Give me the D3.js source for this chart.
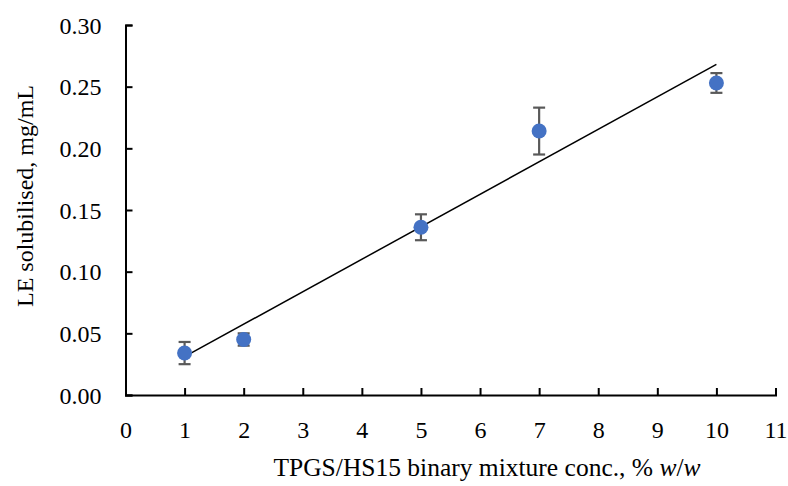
<!DOCTYPE html>
<html>
<head>
<meta charset="utf-8">
<script src="https://cdn.jsdelivr.net/npm/d3@7"></script>
<style>
  html, body { margin: 0; padding: 0; background: #fff; }
  text { font-family: "Palatino Linotype", "Book Antiqua", Palatino, "Liberation Serif", serif; fill: #000; }
</style>
</head>
<body>
<svg id="chart" width="788" height="486"></svg>
<script>
const concentrations = [1, 2, 5, 7, 10];
const solubilised = [0.034, 0.045, 0.136, 0.214, 0.253];
const errors = [0.009, 0.005, 0.0105, 0.019, 0.008];
const xTicks = [0, 1, 2, 3, 4, 5, 6, 7, 8, 9, 10, 11];
const yTicks = [0.00, 0.05, 0.10, 0.15, 0.20, 0.25, 0.30];
const xTitle = "TPGS/HS15 binary mixture conc., % ";
const yTitle = "LE solubilised, mg/mL";

const svg = d3.select("#chart");
const x = d3.scaleLinear().domain([0, 11]).range([125.5, 775.5]);
const y = d3.scaleLinear().domain([0, 0.30]).range([395, 25]);
const fs = 24;

// linear trendline (least squares)
const n = concentrations.length;
const mx = d3.mean(concentrations), my = d3.mean(solubilised);
let sxy = 0, sxx = 0;
for (let i = 0; i < n; i++) { sxy += (concentrations[i]-mx)*(solubilised[i]-my); sxx += (concentrations[i]-mx)**2; }
const slope = sxy / sxx, intercept = my - slope * mx;
const x0 = d3.min(concentrations), x1 = d3.max(concentrations);

// axes
const xAxis = svg.append("g").attr("transform", `translate(0,${y(0)})`)
  .call(d3.axisBottom(x).tickValues(xTicks).tickSize(-7).tickPadding(0).tickFormat(d3.format("d")));
xAxis.select(".domain").attr("stroke", "#000").attr("stroke-width", 2);
xAxis.selectAll(".tick line").attr("stroke", "#000").attr("stroke-width", 2);
xAxis.selectAll(".tick text").attr("y", 43).attr("dy", null).style("font-size", fs + "px");

const yAxis = svg.append("g").attr("transform", `translate(${x(0)},0)`)
  .call(d3.axisLeft(y).tickValues(yTicks).tickSize(-7).tickFormat(d3.format(".2f")));
yAxis.select(".domain").attr("stroke", "#000").attr("stroke-width", 2);
yAxis.selectAll(".tick line").attr("stroke", "#000").attr("stroke-width", 2);
yAxis.selectAll(".tick text").attr("x", -24).attr("dy", "0.34em").style("font-size", fs + "px");

// trendline
svg.append("line")
  .attr("x1", x(x0)).attr("y1", y(intercept + slope * x0))
  .attr("x2", x(x1)).attr("y2", y(intercept + slope * x1))
  .attr("stroke", "#000").attr("stroke-width", 1.5);

// error bars
const eb = svg.append("g").attr("stroke", "#595959").attr("stroke-width", 2.2);
concentrations.forEach((c, i) => {
  const cx = x(c), lo = y(solubilised[i] - errors[i]), hi = y(solubilised[i] + errors[i]);
  eb.append("line").attr("x1", cx).attr("x2", cx).attr("y1", lo).attr("y2", hi);
  eb.append("line").attr("x1", cx - 6).attr("x2", cx + 6).attr("y1", lo).attr("y2", lo);
  eb.append("line").attr("x1", cx - 6).attr("x2", cx + 6).attr("y1", hi).attr("y2", hi);
});

// points
svg.append("g").selectAll("circle").data(concentrations).join("circle")
  .attr("cx", d => x(d)).attr("cy", (d, i) => y(solubilised[i]))
  .attr("r", 7.5).attr("fill", "#4472C4");

// titles
const xt = svg.append("text").attr("x", 487).attr("y", 476).attr("text-anchor", "middle").style("font-size", "25.5px");
xt.append("tspan").text(xTitle);
xt.append("tspan").attr("font-style", "italic").text("w");
xt.append("tspan").text("/");
xt.append("tspan").attr("font-style", "italic").text("w");

svg.append("text").attr("transform", "translate(33,196) rotate(-90)").attr("text-anchor", "middle")
  .style("font-size", fs + "px").text(yTitle);
</script>
</body>
</html>
